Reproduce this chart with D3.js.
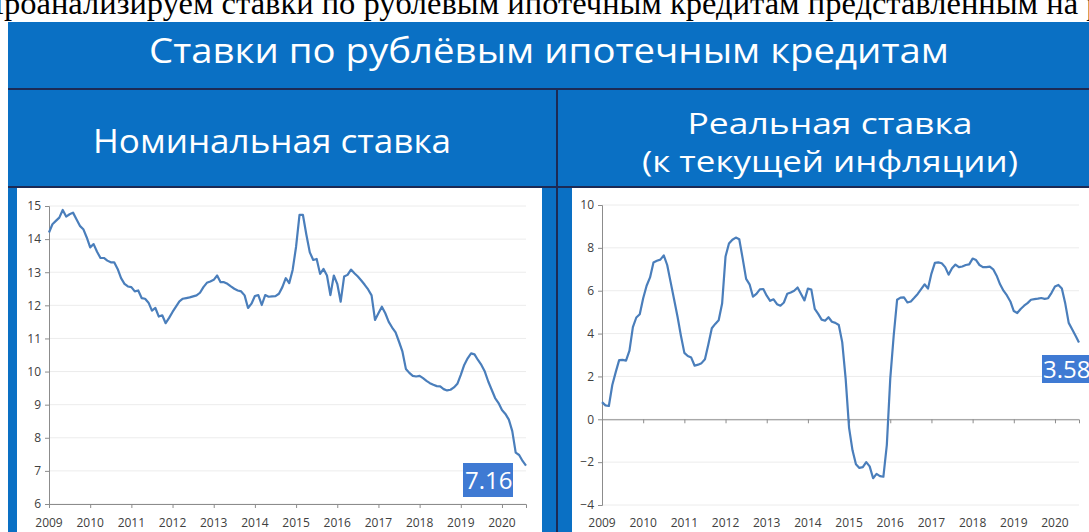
<!DOCTYPE html>
<html><head><meta charset="utf-8">
<script src="https://cdn.jsdelivr.net/npm/d3@7"></script>
<style>html,body{margin:0;padding:0;background:#fff;overflow:hidden}</style>
</head><body>
<svg id="c" width="1089" height="532"></svg>
<script>
// ---------- DATA ----------
const yearLabels = ["2009","2010","2011","2012","2013","2014","2015","2016","2017","2018","2019","2020"];
const nominalTicks = [6,7,8,9,10,11,12,13,14,15];
const realTicks = [-4,-2,0,2,4,6,8,10];
// monthly, Jan 2009 – Aug 2020
const nominal = [14.2,14.45,14.55,14.65,14.88,14.68,14.75,14.8,14.6,14.4,14.3,14.05,
13.75,13.85,13.62,13.43,13.43,13.35,13.3,13.3,13.1,12.82,12.65,12.57,
12.55,12.42,12.45,12.22,12.2,12.08,11.84,11.92,11.66,11.7,11.46,11.62,
11.8,11.96,12.12,12.2,12.22,12.24,12.27,12.3,12.38,12.55,12.68,12.72,
12.77,12.9,12.7,12.7,12.65,12.57,12.5,12.45,12.42,12.3,11.92,12.05,
12.28,12.31,12.01,12.31,12.26,12.27,12.28,12.35,12.55,12.82,12.67,13.07,
13.77,14.73,14.73,14.13,13.6,13.37,13.4,12.95,13.1,12.9,12.31,12.9,
12.65,12.11,12.87,12.92,13.08,12.97,12.87,12.75,12.62,12.48,12.3,11.56,
11.76,11.96,11.76,11.5,11.33,11.18,10.9,10.6,10.08,9.96,9.87,9.85,
9.87,9.8,9.72,9.65,9.6,9.56,9.55,9.47,9.43,9.45,9.52,9.63,
9.9,10.2,10.4,10.55,10.52,10.35,10.2,10.0,9.7,9.45,9.2,9.05,
8.84,8.72,8.55,8.2,7.55,7.48,7.3,7.16];
const real = [0.8,0.65,0.62,1.6,2.2,2.76,2.77,2.74,3.2,4.3,4.75,4.9,
5.65,6.23,6.62,7.32,7.4,7.45,7.65,7.2,6.4,5.6,4.8,3.9,
3.1,2.95,2.88,2.5,2.55,2.62,2.8,3.5,4.25,4.45,4.62,5.4,
7.6,8.2,8.38,8.48,8.4,7.5,6.55,6.3,5.72,5.85,6.06,6.08,
5.77,5.53,5.6,5.37,5.3,5.45,5.86,5.92,6.0,6.15,5.85,5.55,
6.1,6.05,5.15,4.92,4.65,4.6,4.76,4.55,4.5,4.4,3.6,1.9,
-0.4,-1.45,-2.1,-2.27,-2.23,-2.0,-2.2,-2.75,-2.55,-2.65,-2.68,-1.2,
1.9,3.9,5.58,5.68,5.69,5.45,5.5,5.67,5.85,6.07,6.3,6.1,
6.8,7.3,7.32,7.28,7.1,6.75,7.05,7.22,7.1,7.13,7.2,7.23,
7.5,7.43,7.2,7.1,7.1,7.12,7.0,6.7,6.3,6.0,5.78,5.5,
5.05,4.96,5.15,5.3,5.42,5.58,5.61,5.63,5.66,5.62,5.65,5.9,
6.2,6.27,6.1,5.4,4.5,4.2,3.9,3.58];
const nominalLast = "7.16";
const realLast = "3.58";

// ---------- LAYOUT ----------
const svg = d3.select("#c");
const BLUE = "#0a70c4", DARK = "#1c2a55", LINE = "#4a7ebb", BOX = "#3f7ad3";
const SANS = "'Open Sans', 'Noto Sans', sans-serif";
const SERIF = "'Liberation Serif', 'DejaVu Serif', serif";

// top clipped paragraph line
const para = svg.append("text").attr("y", 14).attr("font-family", SERIF)
  .attr("font-size", 32.5).attr("fill", "#000")
  .text("Проанализируем ставки по рублёвым ипотечным кредитам представленным на рисунке");
{
  const tmp = svg.append("text").attr("font-family", SERIF).attr("font-size", 32.5).text("П");
  const w = tmp.node().getComputedTextLength(); tmp.remove();
  para.attr("x", 4 - w);
}

svg.append("rect").attr("x", 8).attr("y", 22).attr("width", 1081).attr("height", 510).attr("fill", BLUE);
svg.append("rect").attr("x", 8).attr("y", 88).attr("width", 1081).attr("height", 2).attr("fill", DARK);
svg.append("rect").attr("x", 8).attr("y", 186).attr("width", 1081).attr("height", 2).attr("fill", DARK);
svg.append("rect").attr("x", 556).attr("y", 88).attr("width", 2).attr("height", 444).attr("fill", DARK);

function fitText(x, y, txt, size, width) {
  const t = svg.append("text").attr("x", x).attr("y", y).attr("text-anchor", "middle")
    .attr("font-family", SANS).attr("font-size", size).attr("fill", "#fff").text(txt);
  t.attr("textLength", width).attr("lengthAdjust", "spacingAndGlyphs");
  return t;
}
fitText(549, 63, "Ставки по рублёвым ипотечным кредитам", 35, 800);
fitText(272, 153, "Номинальная ставка", 33, 358);
fitText(830, 134, "Реальная ставка", 30, 285);
fitText(830, 172, "(к текущей инфляции)", 30, 376);

// panels
svg.append("rect").attr("x", 17).attr("y", 188).attr("width", 525).attr("height", 344).attr("fill", "#fff");
svg.append("rect").attr("x", 572).attr("y", 188).attr("width", 517).attr("height", 344).attr("fill", "#fff");

function chart(opts) {
  const {data, x0, x1, yTop, yBot, dom, ticks, zeroAxis, last, box} = opts;
  const g = svg.append("g");
  const x = d3.scaleLinear().domain([0, data.length - 1]).range([x0, x1]);
  const y = d3.scaleLinear().domain(dom).range([yBot, yTop]);
  // gridlines
  g.selectAll(".grid").data(ticks).join("line")
    .attr("x1", x0).attr("x2", x1).attr("y1", d => y(d)).attr("y2", d => y(d))
    .attr("stroke", "#ececec").attr("stroke-width", 1);
  // y axis
  const ya = g.append("g").attr("transform", `translate(${x0},0)`)
    .call(d3.axisLeft(y).tickValues(ticks).tickSize(4).tickPadding(4).tickFormat(d3.format("d")));
  ya.select(".domain").attr("stroke", "#8c8c8c");
  ya.selectAll(".tick line").attr("stroke", "#8c8c8c");
  ya.selectAll("text").attr("font-family", SANS).attr("font-size", 12).attr("fill", "#404040");
  // x axis line with ticks
  const xAxisY = y(zeroAxis);
  const yearIdx = yearLabels.map((d, i) => i * 12);
  const xa = g.append("g").attr("transform", `translate(0,${xAxisY})`)
    .call(d3.axisBottom(x).tickValues(yearIdx).tickSize(4).tickFormat(() => ""));
  xa.select(".domain").attr("stroke", "#8c8c8c");
  xa.selectAll(".tick line").attr("stroke", "#8c8c8c");
  // year labels at bottom
  g.selectAll(".yl").data(yearLabels).join("text")
    .attr("x", (d, i) => x(i * 12)).attr("y", 527).attr("text-anchor", "middle")
    .attr("font-family", SANS).attr("font-size", 12).attr("fill", "#404040").text(d => d);
  // line
  g.append("path").datum(data)
    .attr("d", d3.line().x((d, i) => x(i)).y(d => y(d)))
    .attr("fill", "none").attr("stroke", LINE).attr("stroke-width", 2.2).attr("stroke-linejoin", "round");
  // value box
  g.append("rect").attr("x", box.x).attr("y", box.y).attr("width", box.w).attr("height", box.h).attr("fill", BOX);
  g.append("text").attr("x", box.tx).attr("y", box.y + box.h / 2 + 8.5).attr("text-anchor", "start")
    .attr("font-family", SANS).attr("font-size", 24).attr("fill", "#fff").text(last);
}

chart({data: nominal, x0: 49, x1: 526, yTop: 206, yBot: 504, dom: [6, 15], ticks: nominalTicks, zeroAxis: 6,
  last: nominalLast, box: {x: 463, y: 463, w: 50, h: 34, tx: 465}});
chart({data: real, x0: 602, x1: 1079, yTop: 205, yBot: 505, dom: [-4, 10], ticks: realTicks, zeroAxis: 0,
  last: realLast, box: {x: 1042, y: 355, w: 50, h: 28, tx: 1043}});
</script>
</body></html>
